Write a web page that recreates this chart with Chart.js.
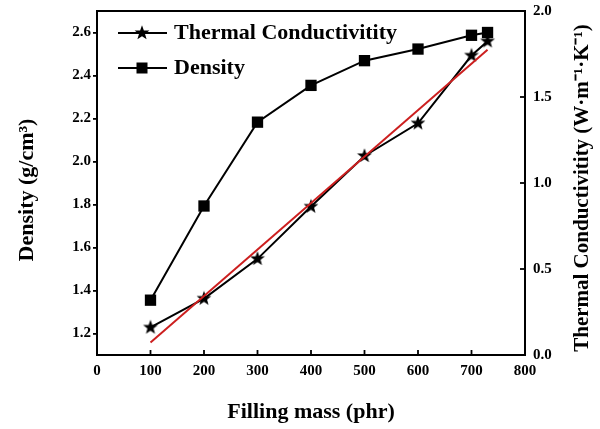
<!DOCTYPE html>
<html>
<head>
<meta charset="utf-8">
<script src="https://cdn.jsdelivr.net/npm/chart.js@4/dist/chart.umd.min.js"></script>
<style>
html,body{margin:0;padding:0;background:#fff;}
#wrap{position:relative;width:600px;height:429px;}
</style>
</head>
<body>
<div id="wrap"><canvas id="c" width="600" height="429"></canvas></div>
<script>
// ---- data ----
const fillingMass = [100, 200, 300, 400, 500, 600, 700, 730];
const densityValues = [1.355, 1.793, 2.183, 2.354, 2.469, 2.523, 2.587, 2.600];
const thermalValues = [0.160, 0.328, 0.559, 0.863, 1.157, 1.347, 1.741, 1.824];
const fitX = [100, 730];
const fitY = [0.072, 1.775];
const xTicks = [0, 100, 200, 300, 400, 500, 600, 700, 800];
const densityTicks = [1.2, 1.4, 1.6, 1.8, 2.0, 2.2, 2.4, 2.6];
const thermalTicks = [0.0, 0.5, 1.0, 1.5, 2.0];
const labelThermal = 'Thermal Conductivitity';
const labelDensity = 'Density';
const titleX = 'Filling mass (phr)';
const titleY = 'Density (g/cm\u00B3)';
const titleY2 = 'Thermal Conductivitity (W\u00B7m\u207B\u00B9\u00B7K\u207B\u00B9)';

const FONT = '"Liberation Serif", "Times New Roman", serif';

function makeStar(outer, inner) {
  const s = Math.ceil(outer * 2 + 2);
  const cv = document.createElement('canvas');
  cv.width = s; cv.height = s;
  const g = cv.getContext('2d');
  g.fillStyle = '#000';
  g.beginPath();
  for (let i = 0; i < 10; i++) {
    const r = i % 2 === 0 ? outer : inner;
    const a = -Math.PI / 2 + i * Math.PI / 5;
    const px = s / 2 + r * Math.cos(a), py = s / 2 + r * Math.sin(a);
    if (i === 0) g.moveTo(px, py); else g.lineTo(px, py);
  }
  g.closePath();
  g.fill();
  return cv;
}
const starImg = makeStar(7.8, 3.2);

const pts = (xs, ys) => xs.map((x, i) => ({x: x, y: ys[i]}));

const framePlugin = {
  id: 'frame',
  afterDraw(chart) {
    const ctx = chart.ctx;
    const a = chart.chartArea;
    ctx.save();
    ctx.strokeStyle = '#000';
    ctx.lineWidth = 2;
    ctx.strokeRect(a.left, a.top, a.right - a.left, a.bottom - a.top);
    // inward ticks on x and right axes
    ctx.lineWidth = 1.8;
    const xs = chart.scales.x;
    xTicks.forEach(v => {
      const px = xs.getPixelForValue(v);
      ctx.beginPath(); ctx.moveTo(px, a.bottom); ctx.lineTo(px, a.bottom - 5); ctx.stroke();
    });
    const y2 = chart.scales.y2;
    thermalTicks.forEach(v => {
      const py = y2.getPixelForValue(v);
      ctx.beginPath(); ctx.moveTo(a.right, py); ctx.lineTo(a.right - 5, py); ctx.stroke();
    });
    // axis titles
    ctx.fillStyle = '#000';
    ctx.textAlign = 'center';
    ctx.textBaseline = 'middle';
    ctx.font = 'bold 22px ' + FONT;
    ctx.fillText(titleX, (a.left + a.right) / 2, 412);
    ctx.save();
    ctx.translate(27, 190);
    ctx.rotate(-Math.PI / 2);
    ctx.fillText(titleY, 0, 0);
    ctx.restore();
    ctx.font = 'bold 21px ' + FONT;
    ctx.save();
    ctx.translate(583, 188);
    ctx.rotate(-Math.PI / 2);
    ctx.fillText(titleY2, 0, 0);
    ctx.restore();
    // legend
    ctx.font = 'bold 22px ' + FONT;
    const items = [
      {y: 33, label: labelThermal, marker: 'star'},
      {y: 68, label: labelDensity, marker: 'rect'}
    ];
    items.forEach(it => {
      ctx.strokeStyle = '#000';
      ctx.lineWidth = 2;
      ctx.beginPath(); ctx.moveTo(118, it.y); ctx.lineTo(167, it.y); ctx.stroke();
      if (it.marker === 'star') {
        ctx.drawImage(starImg, 142 - starImg.width / 2, it.y - starImg.height / 2);
      } else {
        ctx.fillRect(142 - 5.5, it.y - 5.5, 11, 11);
      }
      ctx.textAlign = 'left';
      ctx.fillText(it.label, 174, it.y);
    });
    ctx.restore();
  }
};

function noPad(s) { s.paddingTop = 0; s.paddingBottom = 0; s.paddingLeft = 0; s.paddingRight = 0; }

new Chart(document.getElementById('c'), {
  type: 'line',
  data: {
    datasets: [
      {
        label: 'fit',
        data: pts(fitX, fitY),
        yAxisID: 'y2',
        borderColor: '#cc1f1f',
        borderWidth: 2,
        pointRadius: 0,
        order: 0
      },
      {
        label: labelThermal,
        data: pts(fillingMass, thermalValues),
        yAxisID: 'y2',
        borderColor: '#000',
        borderWidth: 2,
        pointStyle: starImg,
        pointRadius: 8,
        order: 1
      },
      {
        label: labelDensity,
        data: pts(fillingMass, densityValues),
        yAxisID: 'y',
        borderColor: '#000',
        backgroundColor: '#000',
        borderWidth: 2,
        pointStyle: 'rect',
        pointRadius: 8,
        pointBackgroundColor: '#000',
        pointBorderColor: '#000',
        pointBorderWidth: 0,
        order: 2
      }
    ]
  },
  options: {
    responsive: false,
    animation: false,
    layout: {padding: {top: 11, left: 0, right: 0, bottom: 0}},
    plugins: {legend: {display: false}, tooltip: {enabled: false}},
    scales: {
      x: {
        type: 'linear',
        min: 0, max: 800,
        afterFit(s) { s.height = 74; noPad(s); },
        afterBuildTicks(s) { s.ticks = xTicks.map(v => ({value: v})); },
        grid: {display: false, drawTicks: false},
        border: {display: true, color: '#000', width: 2},
        ticks: {
          color: '#000', padding: 7,
          font: {family: FONT, weight: 'bold', size: 15},
          maxRotation: 0,
          callback: v => String(v)
        }
      },
      y: {
        type: 'linear', position: 'left',
        min: 1.1, max: 2.7,
        afterFit(s) { s.width = 97; noPad(s); },
        afterBuildTicks(s) { s.ticks = densityTicks.map(v => ({value: v})); },
        grid: {display: true, drawOnChartArea: false, drawTicks: true, tickLength: 4, color: '#000', lineWidth: 1.8},
        border: {display: true, color: '#000', width: 2},
        ticks: {
          color: '#000', padding: 2,
          font: {family: FONT, weight: 'bold', size: 15},
          callback: v => Number(v).toFixed(1)
        }
      },
      y2: {
        type: 'linear', position: 'right',
        min: 0, max: 2.0,
        afterFit(s) { s.width = 75; noPad(s); },
        afterBuildTicks(s) { s.ticks = thermalTicks.map(v => ({value: v})); },
        grid: {display: false, drawTicks: false},
        border: {display: true, color: '#000', width: 2},
        ticks: {
          color: '#000', padding: 8,
          font: {family: FONT, weight: 'bold', size: 15},
          callback: v => Number(v).toFixed(1)
        }
      }
    }
  },
  plugins: [framePlugin]
});
</script>
</body>
</html>
